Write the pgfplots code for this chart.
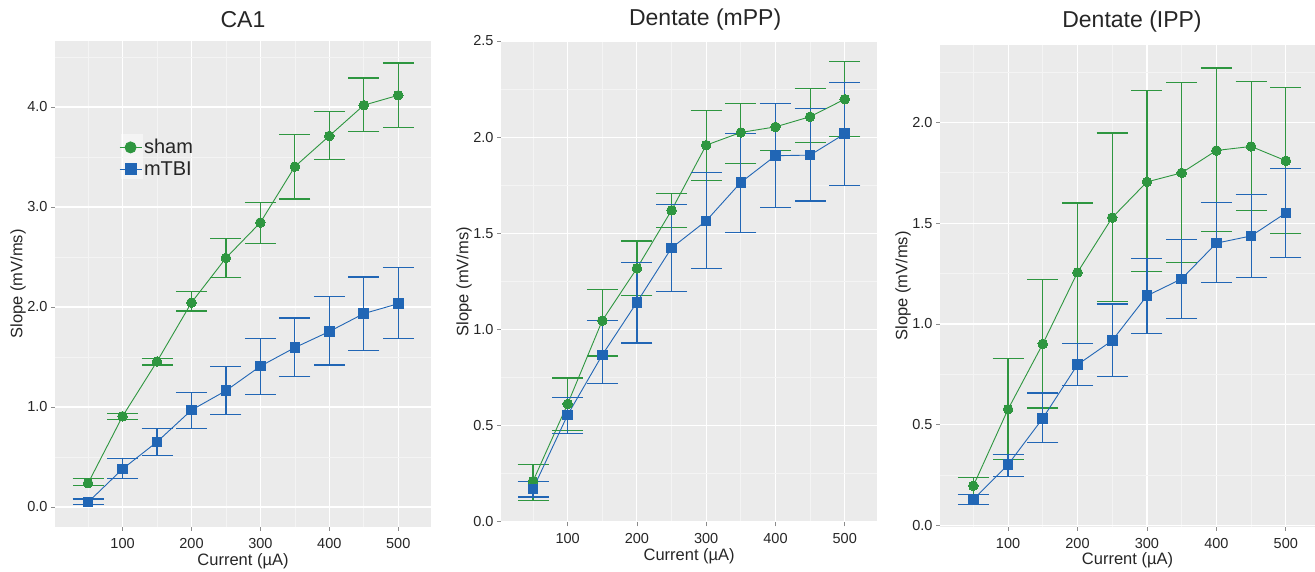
\documentclass[border=0pt]{standalone}
\usepackage{fontspec}
\setmainfont{Liberation Sans}
\usepackage{pgfplots}
\usepackage{pgfplotstable}
\pgfplotsset{compat=1.18}
\definecolor{bgc}{HTML}{EBEBEB}
\definecolor{gminor}{HTML}{F4F4F4}
\definecolor{cgreen}{HTML}{2E9640}
\definecolor{cblue}{HTML}{2166B5}

% x = current (uA), y = slope, hi/lo = error bar ends
\pgfplotstableread{
x y hi lo
50 0.238 0.285 0.212
100 0.907 0.932 0.877
150 1.455 1.484 1.419
200 2.044 2.157 1.960
250 2.490 2.687 2.292
300 2.845 3.042 2.633
350 3.404 3.726 3.079
400 3.711 3.956 3.473
450 4.018 4.289 3.751
500 4.117 4.439 3.795
}\caShamTbl
\pgfplotstableread{
x y hi lo
50 0.048 0.080 0.022
100 0.380 0.483 0.282
150 0.651 0.782 0.516
200 0.969 1.141 0.786
250 1.163 1.408 0.921
300 1.408 1.682 1.126
350 1.594 1.890 1.305
400 1.755 2.106 1.419
450 1.934 2.300 1.565
500 2.033 2.391 1.682
}\caTbiTbl
\pgfplotstableread{
x y hi lo
50 0.209 0.295 0.107
100 0.611 0.746 0.474
150 1.045 1.206 0.860
200 1.317 1.459 1.174
250 1.619 1.707 1.530
300 1.958 2.140 1.773
350 2.024 2.173 1.863
400 2.053 2.175 1.929
450 2.106 2.253 1.971
500 2.197 2.395 2.001
}\mppShamTbl
\pgfplotstableread{
x y hi lo
50 0.169 0.207 0.127
100 0.554 0.645 0.457
150 0.866 1.046 0.719
200 1.140 1.349 0.928
250 1.423 1.651 1.195
300 1.564 1.817 1.317
350 1.764 2.019 1.505
400 1.903 2.175 1.634
450 1.906 2.150 1.667
500 2.017 2.285 1.747
}\mppTbiTbl
\pgfplotstableread{
x y hi lo
50 0.197 0.239 0.152
100 0.577 0.829 0.329
150 0.901 1.220 0.583
200 1.256 1.600 0.905
250 1.528 1.948 1.111
300 1.705 2.159 1.262
350 1.750 2.197 1.305
400 1.861 2.270 1.459
450 1.881 2.205 1.562
500 1.810 2.172 1.448
}\lppShamTbl
\pgfplotstableread{
x y hi lo
50 0.130 0.154 0.105
100 0.302 0.353 0.244
150 0.532 0.657 0.411
200 0.798 0.905 0.695
250 0.918 1.099 0.738
300 1.140 1.323 0.954
350 1.224 1.419 1.026
400 1.401 1.602 1.204
450 1.437 1.643 1.231
500 1.551 1.772 1.330
}\lppTbiTbl

\pgfplotsset{
  panel/.style={
    scale only axis,
    axis background/.style={fill=bgc},
    axis line style={draw=none},
    grid=both,
    major grid style={white, line width=1.1pt},
    minor grid style={gminor, line width=0.7pt},
    tick align=outside, tick pos=left,
    major tick length=4pt, minor tick length=0pt,
    tick style={black!45, line width=0.7pt},
    ticklabel style={font=\fontsize{14.5}{16}\selectfont, text=black!85},
    xticklabel style={yshift=-4pt},
    /pgf/number format/assume math mode=true,
    yticklabel style={/pgf/number format/fixed, /pgf/number format/fixed zerofill, /pgf/number format/precision=1},
    xtick={100,200,300,400,500},
    minor xtick={50,150,250,350,450},
    xlabel={Current (µA)}, ylabel={Slope (mV/ms)},
    label style={font=\fontsize{16.5}{18}\selectfont, text=black!85},
    xlabel style={at={([yshift=-34pt]axis description cs:0.5,0)}, anchor=center},
    ylabel style={at={([xshift=-37pt]axis description cs:0,0.5)}, anchor=center},
    title style={font=\fontsize{23}{26}\selectfont, text=black!85, anchor=center},
  },
  sham/.style={cgreen, line width=0.9pt, mark=*, mark size=4.8pt,
    mark options={solid, fill=cgreen, draw=cgreen, line width=0pt},
    error bars/.cd, y dir=both, y explicit, error mark=|,
    error bar style={line width=1.2pt, cgreen},
    error mark options={mark size=15.5pt, line width=1.2pt, cgreen}},
  tbi/.style={cblue, line width=0.9pt, mark=square*, mark size=4.8pt,
    mark options={solid, fill=cblue, draw=cblue, line width=0pt},
    error bars/.cd, y dir=both, y explicit, error mark=|,
    error bar style={line width=1.2pt, cblue},
    error mark options={mark size=15.5pt, line width=1.2pt, cblue}},
}

\begin{document}
\begin{tikzpicture}
\useasboundingbox (0,0) rectangle (1315pt,572pt);

% ---------- CA1 ----------
\begin{axis}[panel,
  at={(55pt,45pt)}, anchor=south west,
  width=376pt, height=486pt,
  xmin=2, xmax=547.5, ymin=-0.2, ymax=4.66,
  ytick={0,1,2,3,4}, minor ytick={0.5,1.5,2.5,3.5,4.5},
  title={CA1},
  title style={at={([yshift=15pt]axis description cs:0.5,1)}},
  legend style={at={(axis description cs:0.17,0.802)}, anchor=north west,
    draw=none, fill=none, inner sep=0pt, row sep=2pt,
    font=\fontsize{20}{22}\selectfont, text=black!85,
    nodes={inner sep=2pt}},
  legend cell align=left,
  legend image code/.code={\draw[#1, mark repeat=2, mark phase=2, mark options={scale=1.15}] plot coordinates {(0pt,0pt) (11pt,0pt) (22pt,0pt)};},
]
\fill[white, opacity=0.45] (axis description cs:0.1755,0.716) rectangle (axis description cs:0.234,0.8086);
\addplot[sham] table[x=x, y=y, y error plus expr=\thisrow{hi}-\thisrow{y}, y error minus expr=\thisrow{y}-\thisrow{lo}]{\caShamTbl};
\addlegendentry{sham}
\addplot[tbi] table[x=x, y=y, y error plus expr=\thisrow{hi}-\thisrow{y}, y error minus expr=\thisrow{y}-\thisrow{lo}]{\caTbiTbl};
\addlegendentry{mTBI}
\end{axis}

% ---------- Dentate (mPP) ----------
\begin{axis}[panel,
  at={(501pt,49.7pt)}, anchor=south west,
  width=376.3pt, height=481.3pt,
  xmin=3.8, xmax=547, ymin=-0.005, ymax=2.5,
  ytick={0,0.5,1,1.5,2,2.5}, minor ytick={0.25,0.75,1.25,1.75,2.25},
  title={Dentate (mPP)},
  title style={at={([xshift=16pt,yshift=15pt]axis description cs:0.5,1)}},
]
\addplot[sham] table[x=x, y=y, y error plus expr=\thisrow{hi}-\thisrow{y}, y error minus expr=\thisrow{y}-\thisrow{lo}]{\mppShamTbl};
\addplot[tbi] table[x=x, y=y, y error plus expr=\thisrow{hi}-\thisrow{y}, y error minus expr=\thisrow{y}-\thisrow{lo}]{\mppTbiTbl};
\end{axis}

% ---------- Dentate (lPP) ----------
\begin{axis}[panel,
  at={(940pt,45.3pt)}, anchor=south west,
  width=375pt, height=481.4pt,
  xmin=2, xmax=542, ymin=-0.006, ymax=2.383,
  ytick={0,0.5,1,1.5,2}, minor ytick={0.25,0.75,1.25,1.75,2.25},
  title={Dentate (IPP)},
  title style={at={([xshift=4.5pt,yshift=18pt]axis description cs:0.5,1)}},
]
\addplot[sham] table[x=x, y=y, y error plus expr=\thisrow{hi}-\thisrow{y}, y error minus expr=\thisrow{y}-\thisrow{lo}]{\lppShamTbl};
\addplot[tbi] table[x=x, y=y, y error plus expr=\thisrow{hi}-\thisrow{y}, y error minus expr=\thisrow{y}-\thisrow{lo}]{\lppTbiTbl};
\end{axis}
\end{tikzpicture}
\end{document}
